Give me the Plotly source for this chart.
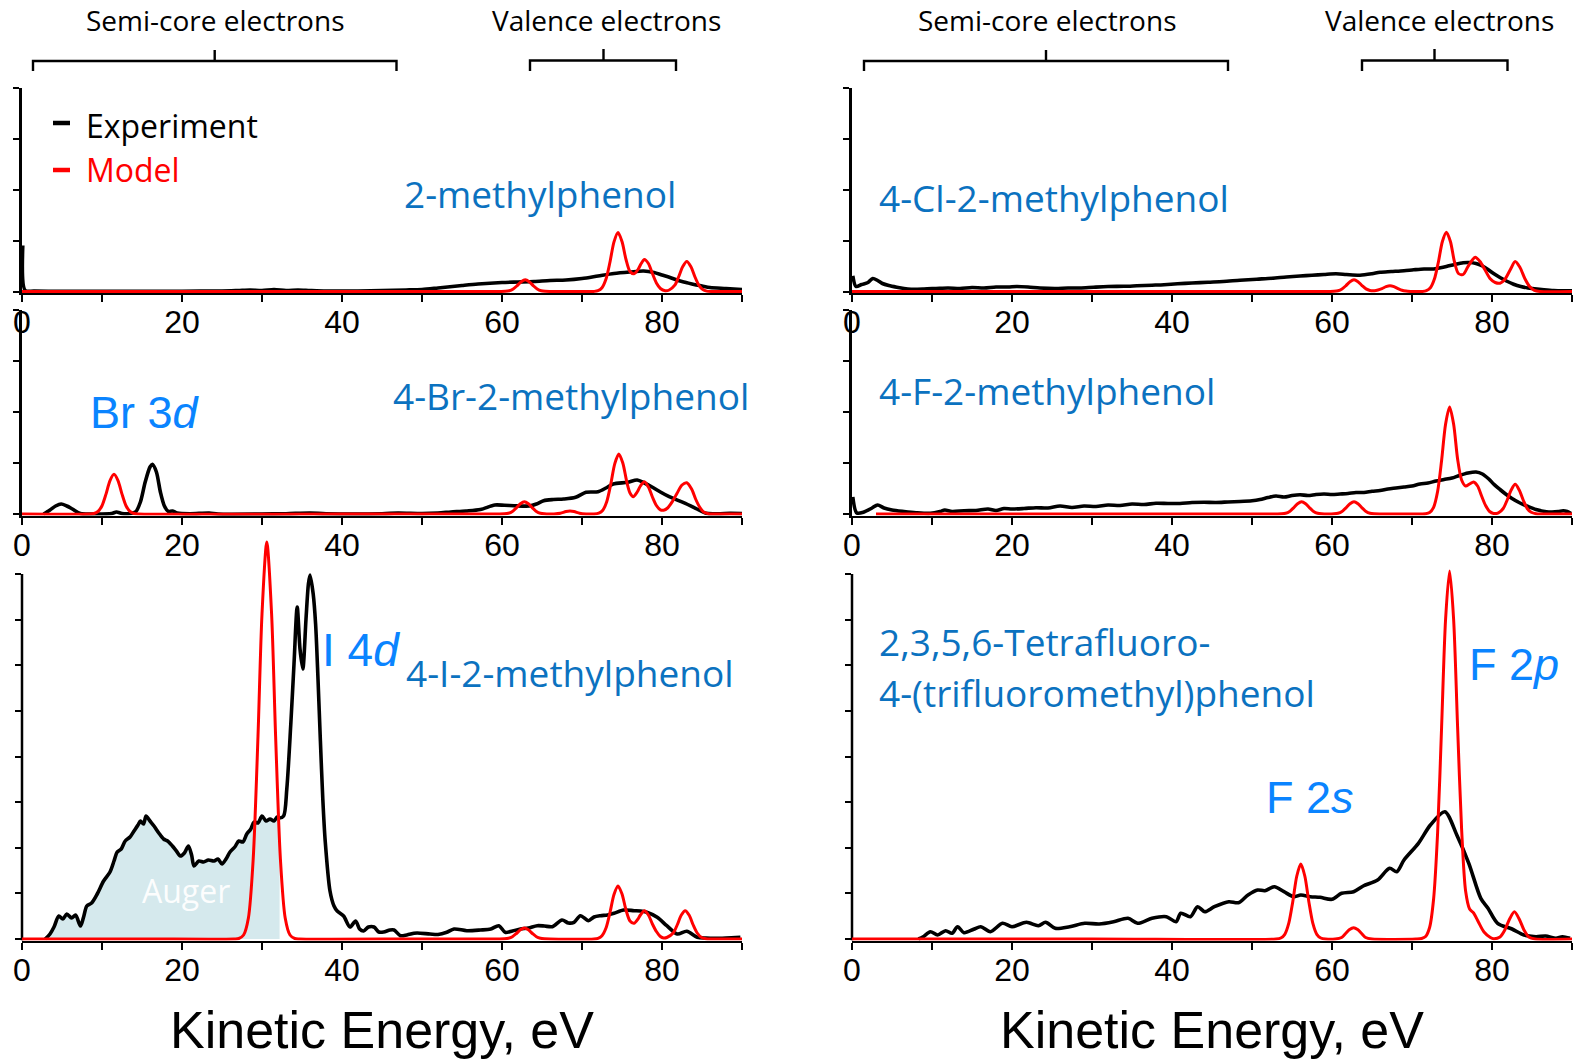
import plotly.graph_objects as go

# ---------------- data (energy eV, intensity arb. units) ----------------
TL_EXP = [(0.1, 46), (0.4, 1), (1.5, 0.5), (5, 0.3), (10, 0.3), (15, 0.3), (20, 0.3), (25, 0.5), (27, 1),
          (28.5, 1.5), (30, 1), (31.5, 2), (33, 1), (34.5, 1.5), (36, 1), (38, 0.5), (40, 0.5), (42, 0.5),
          (45, 1), (48, 1.5), (50, 2), (52, 3.5), (55, 6), (57, 7.5), (60, 9), (62, 9.5), (64, 10), (66, 11),
          (68, 11.5), (70, 13), (72, 15.5), (74, 18), (76, 19.5), (77.7, 20.5), (79, 19), (80, 16.5), (81, 14),
          (82, 11), (83, 9), (84, 7), (85, 5.5), (86, 4), (88, 3), (90, 2)]
TL_MOD = [(0, 0), (30, 0), (59.8, 0), (60.4, 0.15), (60.9, 0.7), (61.4, 2.5), (61.9, 5.9), (62.4, 9.8), (62.9, 11.7),
          (63.4, 9.8), (63.9, 5.9), (64.4, 2.5), (64.9, 0.7), (65.4, 0.15), (66, 0), (71, 0), (71.5, 0.1), (72.0, 0.8),
          (72.5, 3.7), (73.0, 12.4), (73.5, 29.5), (74.0, 49.6), (74.5, 59), (75.0, 50), (75.5, 32), (76.0, 20),
          (76.5, 17.7), (77.0, 22), (77.4, 28), (77.8, 32), (78.3, 28), (78.8, 18), (79.3, 8.5), (79.8, 3), (80.4, 0.8),
          (80.9, 1.5), (81.6, 6.3), (82.1, 15), (82.6, 25), (83.1, 30), (83.6, 25), (84.1, 15), (84.6, 6.3), (85.1, 1.9),
          (85.6, 0.4), (86.2, 0), (90, 0)]

TR_EXP = [(0.1, 15.7), (0.5, 5), (1.2, 7), (2, 9), (2.6, 13), (3.2, 11), (3.8, 8), (4.6, 6), (5.6, 4.3), (6.5, 3),
          (7.4, 2.3), (9, 2.5), (10.5, 3), (12, 3.5), (13.5, 3), (15, 4), (16.5, 3.5), (18, 4.5), (19.5, 4.5),
          (20.6, 5), (22, 4.5), (23.5, 3.5), (25.4, 3), (27, 3.5), (28.5, 3.5), (30.2, 4.3), (32, 5), (34, 5.2),
          (35.6, 5.7), (37.5, 6.3), (39, 6.8), (40.7, 7.7), (42.5, 8.5), (44.5, 9.3), (46.4, 10), (48.5, 11.3),
          (50.6, 12.3), (52.5, 13.2), (54.3, 14.5), (56, 15.5), (57.5, 16.2), (59, 17), (60.5, 17.7), (61.8, 17),
          (63.5, 16.3), (65, 17.8), (66, 19.3), (67.4, 20), (69, 20.8), (70.2, 21.7), (71.5, 22.5), (72.7, 22.5),
          (73.4, 23.5), (74.3, 25), (75.3, 27), (76.4, 28.8), (77.2, 29), (78, 28), (78.8, 25.5), (79.5, 22),
          (80.2, 17.9), (81, 14), (81.8, 10.5), (82.7, 7.3), (83.6, 5), (84.5, 3.5), (85.3, 2.8), (86.5, 1.8),
          (87.7, 1), (89, 0.7), (90, 0.7)]
TR_MOD = [(0, 0), (30, 0), (59.7, 0), (60.25, 0.15), (60.75, 0.7), (61.25, 2.5), (61.75, 5.9), (62.25, 9.8),
          (62.75, 11.7), (63.25, 9.8), (63.75, 5.9), (64.25, 2.6), (64.75, 1.0), (65.3, 0.8), (65.75, 1.5),
          (66.25, 2.9), (66.75, 4.8), (67.25, 5.7), (67.75, 4.8), (68.25, 2.9), (68.75, 1.2), (69.25, 0.4),
          (69.8, 0.1), (70.5, 0), (71.3, 0), (71.8, 0.8), (72.3, 3.7), (72.8, 12.4), (73.3, 29.5), (73.8, 50),
          (74.3, 59.3), (74.8, 50), (75.3, 30), (75.8, 18), (76.4, 17), (77.0, 25), (77.5, 31), (77.9, 34.3),
          (78.5, 30), (79.1, 22), (79.75, 13), (80.4, 9), (81.0, 8.3), (81.6, 12), (82.3, 22), (82.9, 30),
          (83.5, 24), (84.1, 13), (84.7, 5), (85.3, 1.2), (86.0, 0), (90, 0)]

ML_EXP = [(2.7, 0), (3.5, 4), (4.2, 8), (4.9, 10), (5.6, 8), (6.3, 5), (7.3, 0.5), (9, 0), (11.2, 0.5), (11.8, 2),
          (12.5, 0.5), (13.5, 0.5), (14.2, 2), (14.8, 12), (15.4, 32), (16.0, 47), (16.3, 49.7), (16.8, 42),
          (17.3, 22), (17.8, 8), (18.3, 2.5), (18.8, 3), (19.4, 1), (21, 0.3), (23.4, 1), (24.5, 0), (30, 0),
          (33, 0.3), (36, 1), (38, 0.3), (45, 0.3), (47, 1), (50, 0.5), (52, 1), (53.6, 2), (55.5, 3), (57.3, 4.5),
          (59.1, 9), (60.3, 8.7), (61.5, 8.3), (63.4, 8), (64.3, 10), (65.2, 13.3), (66.4, 14.5), (67.7, 15),
          (69.2, 16.7), (70.5, 21.7), (72, 22.3), (73, 26), (73.9, 30), (75.7, 31.7), (76.9, 34), (77.8, 31),
          (78.7, 27.3), (79.8, 22), (80.9, 17.3), (82.7, 11.3), (84.2, 5.7), (85.5, 0.7), (87, 0.3), (88.5, 0.7),
          (90, 0.5)]
ML_MOD = [(0, 0), (8.4, 0), (9.0, 0.5), (9.5, 2.5), (10.0, 8.3), (10.5, 19.9), (11.0, 33.4), (11.5, 39.7),
          (12.0, 33.4), (12.5, 19.9), (13.0, 8.3), (13.5, 2.5), (14.0, 0.5), (14.6, 0), (40, 0), (59.7, 0),
          (60.3, 0.2), (60.8, 0.8), (61.3, 2.6), (61.8, 6.2), (62.3, 10.3), (62.8, 12.3), (63.3, 10.3), (63.8, 6.2),
          (64.3, 2.6), (64.8, 0.8), (65.3, 0.2), (66.0, 0), (66.5, 0.1), (67.3, 0.8), (68.0, 2.5), (68.5, 3),
          (69.0, 2.5), (69.7, 0.8), (70.5, 0.1), (71.5, 0), (72.1, 0.8), (72.6, 3.8), (73.1, 12.6), (73.6, 30),
          (74.1, 50.4), (74.6, 60), (75.1, 51), (75.6, 32), (76.0, 21), (76.4, 17.3), (76.9, 22), (77.3, 28),
          (77.8, 32.3), (78.3, 27), (78.8, 17), (79.3, 8.5), (79.8, 4.2), (80.2, 3.8), (80.7, 6), (81.3, 12.5),
          (81.9, 21), (82.5, 29), (83.1, 31.3), (83.7, 25), (84.2, 15), (84.7, 7), (85.2, 2), (85.8, 0.3),
          (86.5, 0), (90, 0)]

MR_EXP = [(0.1, 17), (0.6, 1), (1.5, 2), (2.5, 6), (3.2, 9), (4, 6), (5, 4), (6.5, 2.5), (8, 1.3), (9.8, 0.7),
          (11, 2.5), (11.6, 4), (12.5, 2.5), (14, 3.3), (15.5, 3.5), (17, 5), (18, 3.5), (19, 5.5), (20, 5),
          (21.5, 5.5), (23, 6.3), (24.5, 6), (26, 8), (27.5, 6.5), (29, 8), (30.5, 7.5), (32, 9), (33.5, 8.5),
          (35, 10), (36.5, 9.5), (38, 10.7), (39.5, 10.5), (41, 10.5), (42.5, 11.5), (44, 11.7), (45.5, 11.5),
          (47, 12), (48.5, 12.5), (50, 13.3), (51, 14.5), (52, 16.5), (53, 18), (54, 17), (55, 18.5), (56, 19.3),
          (57, 18.5), (58, 19.5), (59, 20), (60, 19.5), (61, 20), (62, 20.5), (63, 21.5), (64, 21.5), (65, 22.7),
          (66, 23.5), (67, 25), (68, 26), (69, 27), (70, 28), (71, 30), (72, 31), (73, 33), (74, 34.5), (75, 36),
          (75.9, 38.5), (77, 41), (78, 42), (78.8, 40), (79.6, 35), (80.2, 30), (81, 24.5), (81.7, 20),
          (82.5, 15.5), (83.5, 11), (84.5, 7.5), (85.5, 4.5), (86.8, 2.3), (87.5, 2), (88.3, 2.5), (88.9, 3.3),
          (89.4, 2.5), (89.9, 0.5)]
MR_MOD = [(3, 0), (30, 0), (53.2, 0), (53.7, 0.2), (54.2, 0.8), (54.7, 2.6), (55.2, 6.2), (55.7, 10.3), (56.2, 12.3),
          (56.7, 10.3), (57.2, 6.2), (57.7, 2.6), (58.2, 0.8), (58.7, 0.2), (59.5, 0), (60.25, 0.2), (60.75, 0.8),
          (61.25, 2.6), (61.75, 6.2), (62.25, 10.3), (62.75, 12.3), (63.25, 10.3), (63.75, 6.2), (64.25, 2.6),
          (64.75, 0.8), (65.25, 0.2), (66, 0), (71.2, 0), (71.7, 0.2), (72.2, 1.4), (72.7, 6.7), (73.2, 22.5),
          (73.7, 53.5), (74.2, 90), (74.7, 107), (75.2, 90), (75.7, 55), (76.2, 34), (76.7, 28), (77.2, 30),
          (77.7, 32), (78.2, 28), (78.7, 18), (79.2, 8.5), (79.7, 2.5), (80.2, 0.5), (80.8, 1.2), (81.4, 5.5),
          (81.9, 14), (82.4, 24), (82.9, 29.7), (83.4, 24), (83.9, 14), (84.4, 5.5), (84.9, 1.7), (85.5, 0.3),
          (86.2, 0), (90, 0)]

BL_EXP = [(2.9, 0), (3.5, 5), (4.0, 12), (4.6, 23), (5.1, 20), (5.6, 25), (6.2, 21), (6.7, 24), (7.3, 13), (7.7, 22),
          (8.1, 33), (8.7, 36), (9.4, 45), (10.2, 58), (11.0, 67), (11.5, 78), (11.9, 87), (12.4, 90), (12.9, 98),
          (13.5, 102), (14.0, 108), (14.5, 114), (14.8, 118), (15.2, 115), (15.5, 123), (16.0, 118), (16.5, 113),
          (17.1, 106), (17.7, 100), (18.2, 98), (18.8, 93), (19.3, 88), (19.8, 83), (20.3, 86), (20.8, 93),
          (21.2, 84), (21.5, 73), (22.1, 78), (22.7, 77), (23.3, 79), (24.0, 78), (24.5, 80), (25.0, 75),
          (25.5, 80), (26.0, 87), (26.6, 92), (27.1, 98), (27.6, 97), (28.1, 105), (28.6, 110), (29.0, 117),
          (29.5, 116), (30.0, 123), (30.5, 118), (31.0, 120), (31.5, 118), (31.9, 122), (32.2, 121), (32.7, 123),
          (33.1, 150), (33.6, 215), (34.0, 275), (34.4, 332), (34.75, 290), (35.1, 270), (35.5, 320), (35.8, 355),
          (36.0, 364), (36.4, 345), (36.7, 315), (37.0, 260), (37.3, 198), (37.6, 140), (37.9, 98), (38.5, 48),
          (39.0, 33), (39.4, 28), (40.2, 23), (41.0, 12), (41.7, 18), (42.2, 10), (42.7, 8), (43.3, 12), (44.0, 12),
          (44.6, 7), (45.2, 7), (46.0, 9), (46.5, 9), (47.3, 3.3), (48.1, 4), (49.0, 5.7), (49.4, 6), (51.0, 5),
          (52.0, 4.5), (53.1, 6.7), (54.0, 10), (55.6, 8.3), (57.3, 9), (58.6, 10), (59.6, 13.3), (60.4, 6.7),
          (61.3, 8), (62.3, 10), (63.3, 11), (64.4, 13.3), (65.3, 13), (66.3, 12.3), (67.5, 19), (68.3, 16),
          (69.0, 16.7), (69.8, 23.3), (70.8, 18.3), (71.5, 22), (72.3, 23.3), (73.2, 24), (74.0, 25.7), (75.2, 29),
          (76.5, 28.3), (77.3, 28), (78.1, 26.7), (79.4, 21.7), (80.6, 13.3), (81.9, 5), (83.1, 7.7), (84.4, 1.7),
          (85.5, 1), (86.5, 0.7), (88.0, 1), (89.8, 1.7)]
BL_MOD = [(0, 0), (15, 0), (26.5, 0), (27.1, 0.5), (27.7, 4), (28.3, 21), (28.9, 80), (29.5, 203), (30.0, 325),
          (30.6, 397), (31.2, 325), (31.7, 203), (32.3, 80), (32.9, 21), (33.5, 4), (34.1, 0.5), (34.7, 0), (50, 0),
          (59.7, 0), (60.3, 0.2), (60.8, 0.7), (61.3, 2.3), (61.8, 5.5), (62.3, 9.2), (62.8, 11), (63.3, 9.2),
          (63.8, 5.5), (64.3, 2.3), (64.8, 0.7), (65.3, 0.2), (66, 0), (71.5, 0), (72.0, 0.7), (72.5, 3.3),
          (73.0, 11), (73.5, 26.5), (74.0, 44.5), (74.5, 53), (75.0, 45), (75.5, 29), (76.0, 18), (76.5, 15.7),
          (77.0, 20), (77.3, 24), (77.8, 28.3), (78.3, 24), (78.8, 15), (79.3, 7.5), (79.8, 2.5), (80.2, 1),
          (80.6, 1.5), (81.4, 6), (81.9, 14), (82.4, 23.8), (82.9, 28.3), (83.4, 23.8), (83.9, 14), (84.4, 6),
          (84.9, 1.8), (85.5, 0.3), (86.2, 0), (90, 0)]
AUGER_END = 32.2

BR_EXP = [(8.3, 0), (8.9, 2.3), (9.8, 7.3), (10.7, 4), (11.7, 8.3), (12.5, 5.7), (13.2, 12.3), (14, 6.3),
          (15.2, 9.7), (16.1, 12.3), (17.3, 7.3), (18.8, 15.7), (20, 12.3), (21.8, 16.7), (23.3, 13.3),
          (24.2, 16.7), (25.4, 10.7), (27.2, 12.3), (29.1, 15.7), (30.9, 15), (32.7, 17.3), (34.5, 20.7),
          (35.7, 15.7), (37.5, 20.7), (39.3, 22.3), (40.5, 17.3), (41.1, 25.7), (42.3, 22.3), (43.2, 32.3),
          (44.1, 27.3), (45.3, 32.3), (47.1, 37.3), (48.3, 36.3), (49.5, 44), (50.7, 49), (51.6, 48.3),
          (52.8, 52.3), (54, 47.3), (55.2, 42.3), (56.1, 44), (57.3, 42.3), (58.5, 41.7), (60, 39.7), (61.2, 45.7),
          (62.7, 47.3), (63.9, 53), (65.7, 59), (67.2, 70.7), (68.1, 67.3), (69, 79), (70.8, 95.7), (72.3, 114),
          (74.1, 127.3), (75.6, 104), (77.1, 75.7), (78.6, 40.7), (79.5, 30.7), (80.7, 15.7), (82.5, 10), (84, 4),
          (85.5, 2.3), (86.7, 3), (88, 0.7), (88.8, 2.3), (89.75, 0.7)]
BR_MOD = [(0, 0), (30, 0), (53.0, 0), (53.6, 1), (54.1, 4.7), (54.6, 15.8), (55.1, 37.5), (55.6, 63), (56.1, 75),
          (56.6, 63), (57.1, 37.5), (57.6, 15.8), (58.1, 4.7), (58.6, 1), (59.2, 0), (60.4, 0), (61.2, 1.5),
          (61.7, 5.5), (62.2, 9.5), (62.7, 11.3), (63.2, 9.5), (63.7, 5.5), (64.2, 1.5), (65.0, 0), (70.5, 0),
          (71.2, 0.5), (71.7, 2.5), (72.2, 11.5), (72.7, 40), (73.2, 106), (73.7, 212), (74.2, 320), (74.7, 368),
          (75.2, 320), (75.7, 212), (76.2, 110), (76.7, 48), (77.2, 30), (77.7, 26), (78.3, 17), (79.0, 7),
          (79.8, 1.5), (80.2, 0.3), (81.0, 2), (81.6, 9), (82.2, 20), (82.8, 27.3), (83.4, 20), (84.0, 9),
          (84.6, 2), (85.4, 0), (90, 0)]

X_MAJOR = [0, 20, 40, 60, 80]
X_MINOR = [10, 30, 50, 70, 90]
Y_TICKS_SMALL = [0, 51, 102, 153, 204]
Y_TICKS_BIG = [0, 45.625, 91.25, 136.875, 182.5, 228.125, 273.75, 319.375, 365]

# ---------------- layout helpers (page pixels -> paper) ----------------
W, H = 1574, 1060
OFF = 0  # the page body margin is removed by the post script below
def px(x):
    return (x - OFF) / W
def py(y):
    return 1 - (y - OFF) / H

XL = [px(22), px(742)]
XR = [px(852), px(1572)]
Y_TOP = [py(293), py(87.5)]
Y_MID = [py(515.5), py(310)]
Y_BOT = [py(940.5), py(532)]

BLACK = "#000000"
RED = "#FF0000"
NAME_BLUE = "#0B72C0"
ORB_BLUE = "#0A84FF"

fig = go.Figure()

panels = [
    ("", XL, Y_TOP, TL_EXP, TL_MOD, "small"),
    ("2", XR, Y_TOP, TR_EXP, TR_MOD, "small"),
    ("3", XL, Y_MID, ML_EXP, ML_MOD, "small"),
    ("4", XR, Y_MID, MR_EXP, MR_MOD, "small"),
    ("5", XL, Y_BOT, BL_EXP, BL_MOD, "big"),
    ("6", XR, Y_BOT, BR_EXP, BR_MOD, "big"),
]

tickfont = dict(family="Liberation Sans, Arial", size=32, color=BLACK)

for sfx, xd, yd, exp, mod, kind in panels:
    xa, ya = "x" + sfx, "y" + sfx
    if sfx == "5":
        aug = [p for p in exp if p[0] <= AUGER_END]
        fig.add_trace(go.Scatter(x=[p[0] for p in aug], y=[p[1] for p in aug], mode="lines",
                                 line=dict(width=0, color="rgb(213,233,237)", shape="spline"),
                                 fill="tozeroy", fillcolor="rgb(213,233,237)",
                                 xaxis=xa, yaxis=ya, hoverinfo="skip", showlegend=False))
    fig.add_trace(go.Scatter(x=[p[0] for p in exp], y=[p[1] for p in exp], mode="lines",
                             line=dict(color=BLACK, width=3.6, shape="spline", smoothing=0.8),
                             xaxis=xa, yaxis=ya, showlegend=False, name="Experiment"))
    fig.add_trace(go.Scatter(x=[p[0] for p in mod], y=[p[1] for p in mod], mode="lines",
                             line=dict(color=RED, width=3, shape="spline", smoothing=0.8),
                             xaxis=xa, yaxis=ya, showlegend=False, name="Model"))

    big = kind == "big"
    fig.layout["xaxis" + sfx] = dict(
        domain=xd, anchor=ya, range=[0, 90], showgrid=False, zeroline=False, automargin=False,
        showline=True, linecolor=BLACK, linewidth=2, layer="below traces",
        ticks="outside", ticklen=7, tickwidth=2, tickcolor=BLACK,
        tickvals=X_MAJOR, ticktext=[str(v) for v in X_MAJOR], tickfont=tickfont,
        ticklabelstandoff=-7,
        minor=dict(tickvals=X_MINOR, ticks="outside", ticklen=7, tickwidth=2, tickcolor=BLACK, showgrid=False),
    )
    fig.layout["yaxis" + sfx] = dict(
        domain=yd, anchor=xa, range=[-1.5, 407 if big else 204], showgrid=False, zeroline=False,
        automargin=False,
        showline=not big, linecolor=BLACK, linewidth=2.5, layer="below traces",
        ticks="outside", ticklen=6, tickwidth=2, tickcolor=BLACK,
        tickvals=Y_TICKS_BIG if big else Y_TICKS_SMALL, showticklabels=False,
    )

shapes = []
# y-axis lines of the bottom panels (only up to the top tick)
for sfx in ("5", "6"):
    shapes.append(dict(type="line", xref="x" + sfx + " domain", yref="y" + sfx, x0=0, x1=0,
                       y0=-1.5, y1=365, line=dict(color=BLACK, width=2.5), layer="below"))

def bracket(x1, x2, xc, yh, yend, ytop):
    path = (f"M {px(x1)} {py(yend)} L {px(x1)} {py(yh)} L {px(x2)} {py(yh)} L {px(x2)} {py(yend)} "
            f"M {px(xc)} {py(yh)} L {px(xc)} {py(ytop)}")
    return dict(type="path", xref="paper", yref="paper", path=path, line=dict(color=BLACK, width=2.4))

shapes += [bracket(33, 396.5, 214.7, 61, 71, 50),
           bracket(530, 676, 603.5, 60.5, 71, 49),
           bracket(864, 1228, 1046, 61, 71, 50),
           bracket(1362, 1507.5, 1434.5, 60.5, 71, 49)]
# legend dashes
shapes += [dict(type="line", xref="paper", yref="paper", x0=px(53), x1=px(70), y0=py(123), y1=py(123),
                line=dict(color=BLACK, width=4.5)),
           dict(type="line", xref="paper", yref="paper", x0=px(53), x1=px(70), y0=py(170), y1=py(170),
                line=dict(color=RED, width=4.5))]

annotations = []
def txt(t, x, y, size, color, family="Open Sans", xanchor="left"):
    annotations.append(dict(text=t, x=px(x), y=py(y), xref="paper", yref="paper", showarrow=False,
                            xanchor=xanchor, yanchor="middle",
                            font=dict(family=family, size=size, color=color)))

txt("Semi-core electrons", 215, 20, 28, BLACK, xanchor="center")
txt("Valence electrons", 606, 20, 28, BLACK, xanchor="center")
txt("Semi-core electrons", 1047, 20, 28, BLACK, xanchor="center")
txt("Valence electrons", 1439, 20, 28, BLACK, xanchor="center")
txt("Experiment", 84, 125, 32, BLACK)
txt("Model", 84, 170, 32, RED)
txt("2-methylphenol", 402, 194, 37, NAME_BLUE)
txt("4-Cl-2-methylphenol", 877, 198, 37, NAME_BLUE)
txt("4-Br-2-methylphenol", 391, 396, 37, NAME_BLUE)
txt("4-F-2-methylphenol", 877, 390, 37, NAME_BLUE)
txt("4-I-2-methylphenol", 404, 672, 37, NAME_BLUE)
txt("2,3,5,6-Tetrafluoro-", 877, 641, 37, NAME_BLUE)
txt("4-(trifluoromethyl)phenol", 877, 692, 37, NAME_BLUE)
txt("Br 3<i>d</i>", 88, 413, 45, ORB_BLUE, family="Liberation Sans, Arial")
txt("I 4<i>d</i>", 320, 650, 46, ORB_BLUE, family="Liberation Sans, Arial")
txt("F 2<i>s</i>", 1264, 797, 45, ORB_BLUE, family="Liberation Sans, Arial")
txt("F 2<i>p</i>", 1467, 664, 45, ORB_BLUE, family="Liberation Sans, Arial")
txt("Auger", 185.5, 890, 32, "rgba(255,255,255,0.95)", xanchor="center")
txt("Kinetic Energy, eV", 382, 1030, 52, BLACK, family="Liberation Sans, Arial", xanchor="center")
txt("Kinetic Energy, eV", 1212, 1030, 52, BLACK, family="Liberation Sans, Arial", xanchor="center")

fig.update_layout(
    width=W, height=H, margin=dict(l=0, r=0, t=0, b=0, autoexpand=False),
    paper_bgcolor="white", plot_bgcolor="white",
    shapes=shapes, annotations=annotations, showlegend=False,
)

fig.write_html("out.html",
               config={"displayModeBar": False},
               post_script="document.body.style.margin='0';document.body.style.overflow='hidden';")
